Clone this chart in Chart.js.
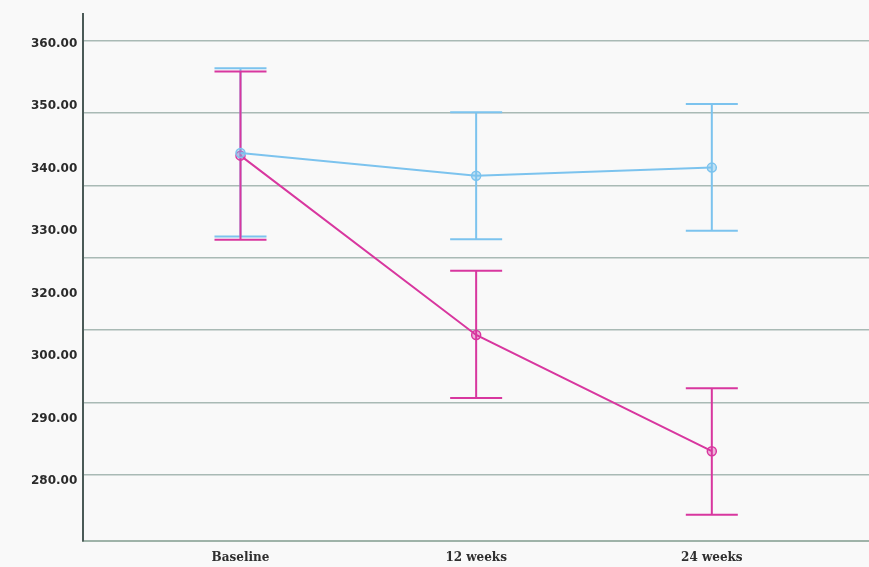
<!DOCTYPE html>
<html>
<head>
<meta charset="utf-8">
<script src="https://cdn.jsdelivr.net/npm/chart.js@4/dist/chart.umd.min.js"></script>
<style>
  html, body { margin: 0; padding: 0; background: #f9f9f9; overflow: hidden; }
  #wrap { width: 869px; height: 567px; position: relative; }
</style>
</head>
<body>
<div id="wrap"><canvas id="c" width="869" height="567"></canvas></div>
<script>
// ---- data ----
const categories = ['Baseline', '12 weeks', '24 weeks'];
const yTickLabels = ['360.00', '350.00', '340.00', '330.00', '320.00', '300.00', '290.00', '280.00'];
const gridTop = 360;
const gridBottom = 280;
const labelTop = 359.4;
const labelBottom = 278.9;

const blueMean  = [339.3, 335.1, 336.6];
const blueUpper = [354.9, 346.8, 348.3];
const blueLower = [323.9, 323.4, 325.0];

const pinkMean  = [338.8, 305.8, 284.4];
const pinkUpper = [354.3, 317.6, 296.0];
const pinkLower = [323.3, 294.2, 272.7];

const BLUE = '#7cc3ee';
const PINK = '#d8379f';

// gridline values: 7 evenly spaced lines from top to bottom
const gridValues = Array.from({length: 7}, (_, i) => gridTop - i * (gridTop - gridBottom) / 6);
// label values: 8 evenly spaced labels from top to bottom
const labelValues = yTickLabels.map((_, i) => labelTop - i * (labelTop - labelBottom) / (yTickLabels.length - 1));

const toPts = arr => arr.map((v, i) => ({x: i, y: v}));

const errorBars = {
  id: 'errorBars',
  beforeDatasetsDraw(chart) {
    const ctx = chart.ctx;
    const xs = chart.scales.x, ys = chart.scales.y;
    const sets = [
      {lo: blueLower, hi: blueUpper, color: BLUE},
      {lo: pinkLower, hi: pinkUpper, color: PINK}
    ];
    ctx.save();
    ctx.lineWidth = 2;
    const half = 26;
    sets.forEach(s => {
      ctx.strokeStyle = s.color;
      s.lo.forEach((lo, i) => {
        const px = xs.getPixelForValue(i);
        const pLo = ys.getPixelForValue(lo);
        const pHi = ys.getPixelForValue(s.hi[i]);
        ctx.beginPath();
        ctx.moveTo(px, pLo); ctx.lineTo(px, pHi);
        ctx.moveTo(px - half, pLo); ctx.lineTo(px + half, pLo);
        ctx.moveTo(px - half, pHi); ctx.lineTo(px + half, pHi);
        ctx.stroke();
      });
    });
    ctx.restore();
  }
};

const noPad = s => { s.paddingLeft = 0; s.paddingRight = 0; s.paddingTop = 0; s.paddingBottom = 0; };

new Chart(document.getElementById('c'), {
  type: 'line',
  data: {
    datasets: [
      {
        data: toPts(blueMean), borderColor: BLUE, borderWidth: 2,
        pointRadius: 4.5, pointBorderWidth: 1.5, pointBorderColor: BLUE,
        pointBackgroundColor: 'rgba(124,195,238,0.45)', yAxisID: 'y', tension: 0
      },
      {
        data: toPts(pinkMean), borderColor: PINK, borderWidth: 2,
        pointRadius: 4.5, pointBorderWidth: 1.5, pointBorderColor: PINK,
        pointBackgroundColor: 'rgba(216,55,159,0.35)', yAxisID: 'y', tension: 0
      }
    ]
  },
  options: {
    responsive: false,
    animation: false,
    layout: { autoPadding: false, padding: { top: 14, right: 0, bottom: -8, left: 25 } },
    plugins: { legend: { display: false }, tooltip: { enabled: false } },
    scales: {
      x: {
        type: 'linear',
        min: -0.667, max: 2.667,
        afterBuildTicks: s => { s.ticks = categories.map((_, i) => ({value: i})); },
        afterFit: noPad,
        ticks: {
          callback: v => categories[v],
          font: { family: 'DejaVu Serif', size: 12, weight: 'bold' },
          color: '#2f2f2f',
          padding: 10,
          maxRotation: 0,
          autoSkip: false
        },
        grid: { display: false, drawTicks: false },
        border: { display: true, color: '#9fb3a9', width: 2 }
      },
      y: {
        position: 'left',
        min: 267.95, max: 364.87,
        afterBuildTicks: s => { s.ticks = gridValues.map(v => ({value: v})); },
        afterFit: noPad,
        ticks: { display: false },
        grid: { color: '#a9bab5', lineWidth: 1.5, drawTicks: false },
        border: { display: true, color: '#4b5a57', width: 2 },
        weight: 1
      },
      yl: {
        position: 'left',
        min: 267.95, max: 364.87,
        afterBuildTicks: s => { s.ticks = labelValues.map(v => ({value: v})); },
        afterFit: noPad,
        ticks: {
          callback: (v, i) => yTickLabels[i],
          font: { family: 'DejaVu Sans', size: 12, weight: 'bold' },
          color: '#2b2b2b',
          padding: 6,
          autoSkip: false
        },
        grid: { display: false, drawTicks: false },
        border: { display: false },
        weight: 2
      }
    }
  },
  plugins: [errorBars]
});
</script>
</body>
</html>
